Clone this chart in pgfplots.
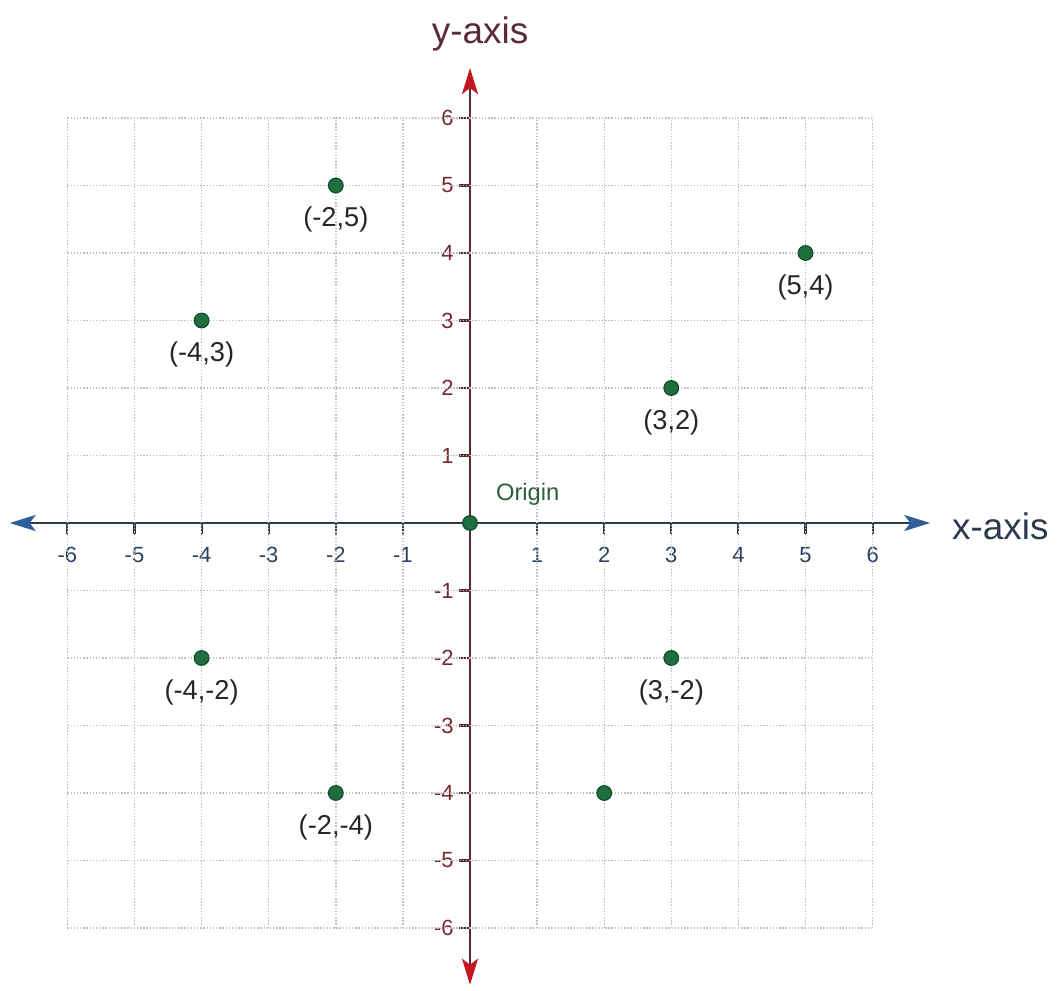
\documentclass[border=0pt]{standalone}
\usepackage{pgfplots}
\pgfplotsset{compat=1.18}
\usepackage{pgfplotstable}
\usepackage{fontspec}
\setmainfont{Liberation Sans}
\usetikzlibrary{arrows.meta}

\definecolor{xaxcol}{HTML}{2E3B4C}
\definecolor{xarrow}{HTML}{2F5E98}
\definecolor{yaxcol}{HTML}{5E2A32}
\definecolor{yarrow}{HTML}{C3161F}
\definecolor{xlab}{HTML}{28425E}
\definecolor{ylab}{HTML}{742833}
\definecolor{xname}{HTML}{2B3A4E}
\definecolor{yname}{HTML}{5A2A36}
\definecolor{ptfill}{HTML}{1F6E3E}
\definecolor{ptedge}{HTML}{0F4A28}
\definecolor{origincol}{HTML}{2A5E3C}
\definecolor{labcol}{HTML}{262626}
\definecolor{gridcol}{HTML}{C2C2C2}

% plotted points and their labels
\pgfplotstableread{
x  y  lab
-2  5 (-2,5)
5   4 (5,4)
-4  3 (-4,3)
3   2 (3,2)
-4 -2 (-4,-2)
3  -2 (3,-2)
-2 -4 (-2,-4)
2  -4 {}
0   0 {}
}\pts

\begin{document}
\begin{tikzpicture}
\begin{axis}[
  at={(0,0)}, anchor=origin,
  x=1.342cm, y=1.35cm,
  xmin=-6.86, xmax=6.86, ymin=-6.84, ymax=6.74,
  axis lines*=middle,
  set layers,
  clip=false,
  x axis line style={draw=xaxcol, line width=1.4pt,
    {Stealth[length=0.52cm,width=0.32cm,inset=0.12cm,color=xarrow]}-{Stealth[length=0.52cm,width=0.32cm,inset=0.12cm,color=xarrow]}},
  y axis line style={draw=yaxcol, line width=1.4pt,
    {Stealth[length=0.52cm,width=0.32cm,inset=0.12cm,color=yarrow]}-{Stealth[length=0.52cm,width=0.32cm,inset=0.12cm,color=yarrow]}},
  xtick={-6,-5,-4,-3,-2,-1,1,2,3,4,5,6},
  xticklabels={-6,-5,-4,-3,-2,-1,1,2,3,4,5,6},
  ytick={-6,-5,-4,-3,-2,-1,1,2,3,4,5,6},
  yticklabels={-6,-5,-4,-3,-2,-1,1,2,3,4,5,6},
  major tick length=0.22cm,
  tick align=outside,
  x tick style={draw=xaxcol, line width=1.2pt},
  y tick style={draw=yaxcol, line width=1.2pt},
  xticklabel style={font=\fontsize{12.5}{14}\selectfont, text=xlab, anchor=north, inner sep=0pt, yshift=-0.26cm},
  yticklabel style={font=\fontsize{12.5}{14}\selectfont, text=ylab, anchor=east, inner sep=0pt, xshift=-0.1cm},
]
% dotted grid over the range -6..6
\pgfplotsinvokeforeach{-6,-5,-4,-3,-2,-1,1,2,3,4,5,6}{
  \draw[on layer=axis background, gridcol, densely dotted, line width=0.8pt] (axis cs:#1,-6) -- (axis cs:#1,6);
  \draw[on layer=axis background, gridcol, densely dotted, line width=0.8pt] (axis cs:-6,#1) -- (axis cs:6,#1);
}

\addplot[only marks, mark=*, mark size=4.2pt,
  mark options={fill=ptfill, draw=ptedge, line width=0.6pt},
  nodes near coords, point meta=explicit symbolic,
  every node near coord/.append style={anchor=center, yshift=-0.68cm,
    font=\fontsize{15.5}{17}\selectfont, text=labcol, inner sep=0pt}]
  table[x=x, y=y, meta=lab] {\pts};

\node[anchor=center, inner sep=0pt, font=\fontsize{13.5}{15}\selectfont, text=origincol]
  at (axis cs:0.86,0.42) {Origin};
\node[anchor=base west, inner sep=0pt, font=\fontsize{21}{24}\selectfont, text=xname]
  at (axis cs:7.18,-0.25) {x-axis};
\node[anchor=base, inner sep=0pt, font=\fontsize{21}{24}\selectfont, text=yname]
  at (axis cs:0.15,7.11) {y-axis};
\end{axis}
% page frame
\path (-9.40,-9.34) rectangle (11.80,10.46);
\end{tikzpicture}
\end{document}
